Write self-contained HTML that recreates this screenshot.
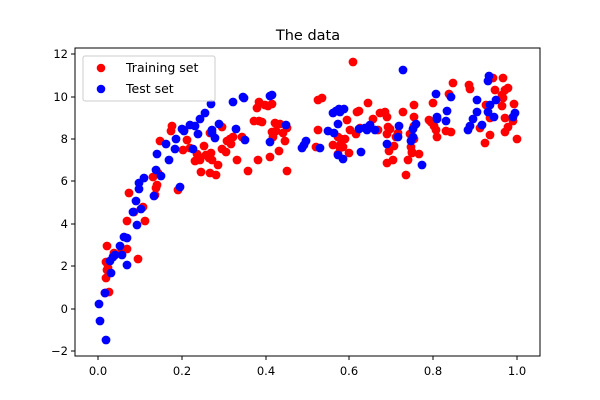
<!DOCTYPE html>
<html><head><meta charset="utf-8"><style>
body{margin:0;background:#fff}
svg{display:block;font-family:"DejaVu Sans","Liberation Sans",sans-serif}
</style></head><body>
<svg id="s" width="600" height="400" viewBox="0 0 600 400" xmlns="http://www.w3.org/2000/svg">
<rect width="600" height="400" fill="#fff"/>
<text x="308" y="40" font-size="14.5" text-anchor="middle">The data</text>
<g id="pts"></g>
<rect x="75" y="48" width="465" height="308" fill="none" stroke="#000" stroke-width="1"/>
<g stroke="#000" stroke-width="1">
<line x1="98" y1="356" x2="98" y2="360"/><line x1="182" y1="356" x2="182" y2="360"/><line x1="266" y1="356" x2="266" y2="360"/><line x1="349" y1="356" x2="349" y2="360"/><line x1="433" y1="356" x2="433" y2="360"/><line x1="517" y1="356" x2="517" y2="360"/>
<line x1="71" y1="54" x2="75" y2="54"/><line x1="71" y1="97" x2="75" y2="97"/><line x1="71" y1="139" x2="75" y2="139"/><line x1="71" y1="181" x2="75" y2="181"/><line x1="71" y1="224" x2="75" y2="224"/><line x1="71" y1="266" x2="75" y2="266"/><line x1="71" y1="309" x2="75" y2="309"/><line x1="71" y1="351" x2="75" y2="351"/>
</g>
<g font-size="11.5" text-anchor="middle">
<text x="98" y="375">0.0</text><text x="182" y="375">0.2</text><text x="266" y="375">0.4</text><text x="349" y="375">0.6</text><text x="433" y="375">0.8</text><text x="517" y="375">1.0</text>
</g>
<g font-size="11.5" text-anchor="end">
<text x="68" y="58">12</text><text x="68" y="101">10</text><text x="68" y="143">8</text><text x="68" y="185">6</text><text x="68" y="228">4</text><text x="68" y="270">2</text><text x="68" y="313">0</text><text x="68" y="355">−2</text>
</g>
<rect x="83" y="56" width="132" height="45" rx="2" fill="#fff" fill-opacity="0.8" stroke="#ccc"/>
<circle cx="101" cy="68" r="4.3" fill="red"/><circle cx="101" cy="89" r="4.3" fill="blue"/>
<text x="126" y="72" font-size="12.5">Training set</text>
<text x="126" y="93" font-size="12.5">Test set</text>
</svg>
<script>
var R=[[107,246],[106,262],[107,270],[108,268],[106,278],[109,292],[105,293],[114,253],[122,250],[127,221],[127,249],[138,259],[129,193],[134,212],[143,207],[158,173],[153,177],[145,221],[155,195],[157,185],[160,141],[156,188],[171,131],[172,126],[178,190],[184,130],[187,140],[183,150],[190,148],[195,161],[197,154],[201,172],[198,156],[200,160],[204,146],[209,158],[211,153],[222,149],[218,165],[212,160],[206,155],[210,133],[210,173],[216,175],[222,127],[227,141],[226,152],[230,139],[231,144],[233,137],[242,137],[237,160],[248,171],[254,121],[259,121],[258,160],[262,122],[265,105],[270,157],[272,132],[275,123],[276,131],[273,137],[280,124],[283,133],[287,128],[285,141],[279,151],[257,108],[259,102],[268,106],[272,104],[287,171],[318,130],[316,147],[338,137],[350,130],[333,145],[341,139],[341,144],[343,147],[345,139],[356,134],[353,62],[357,112],[359,111],[349,153],[338,154],[340,148],[318,100],[322,98],[347,120],[360,128],[368,103],[373,119],[378,130],[380,113],[385,112],[387,117],[390,129],[389,151],[388,127],[393,160],[387,134],[387,163],[396,137],[394,146],[403,112],[406,175],[410,134],[414,105],[411,147],[412,153],[414,139],[414,126],[414,117],[419,154],[412,152],[398,133],[408,160],[433,103],[429,120],[431,122],[434,126],[437,137],[436,130],[451,132],[446,131],[449,94],[453,83],[469,85],[470,89],[480,128],[486,105],[485,143],[493,78],[490,118],[495,90],[490,135],[502,95],[503,98],[505,90],[502,106],[505,118],[508,127],[514,104],[513,121],[517,139],[508,88],[503,78],[505,132]];
var B=[[99,304],[100,321],[106,340],[105,293],[111,273],[110,261],[113,257],[115,255],[122,255],[120,246],[127,265],[127,238],[124,237],[133,212],[137,225],[136,201],[139,189],[139,183],[144,178],[141,209],[154,196],[156,170],[161,176],[157,154],[169,160],[166,144],[175,149],[176,139],[182,129],[190,125],[193,149],[184,131],[180,187],[195,126],[200,119],[198,134],[205,113],[211,104],[212,130],[215,138],[219,124],[212,133],[233,102],[244,98],[243,97],[236,129],[245,140],[270,96],[272,95],[286,125],[270,142],[302,148],[304,145],[306,141],[320,148],[333,113],[336,111],[339,109],[340,112],[338,124],[328,131],[334,133],[338,155],[343,159],[344,109],[359,129],[361,152],[365,128],[367,130],[370,125],[375,130],[387,144],[403,70],[399,126],[398,137],[413,129],[416,124],[411,141],[413,137],[422,165],[436,94],[437,117],[437,119],[446,121],[447,111],[451,97],[468,130],[470,126],[473,119],[477,100],[477,112],[482,125],[489,76],[488,81],[490,105],[488,112],[494,117],[496,100],[513,117],[515,113]];
var g=document.getElementById('pts'),h='';
R.forEach(function(p){h+='<circle cx="'+p[0]+'" cy="'+p[1]+'" r="4.4" fill="red"/>';});
B.forEach(function(p){h+='<circle cx="'+p[0]+'" cy="'+p[1]+'" r="4.4" fill="blue"/>';});
g.innerHTML=h;
</script>
</body></html>
